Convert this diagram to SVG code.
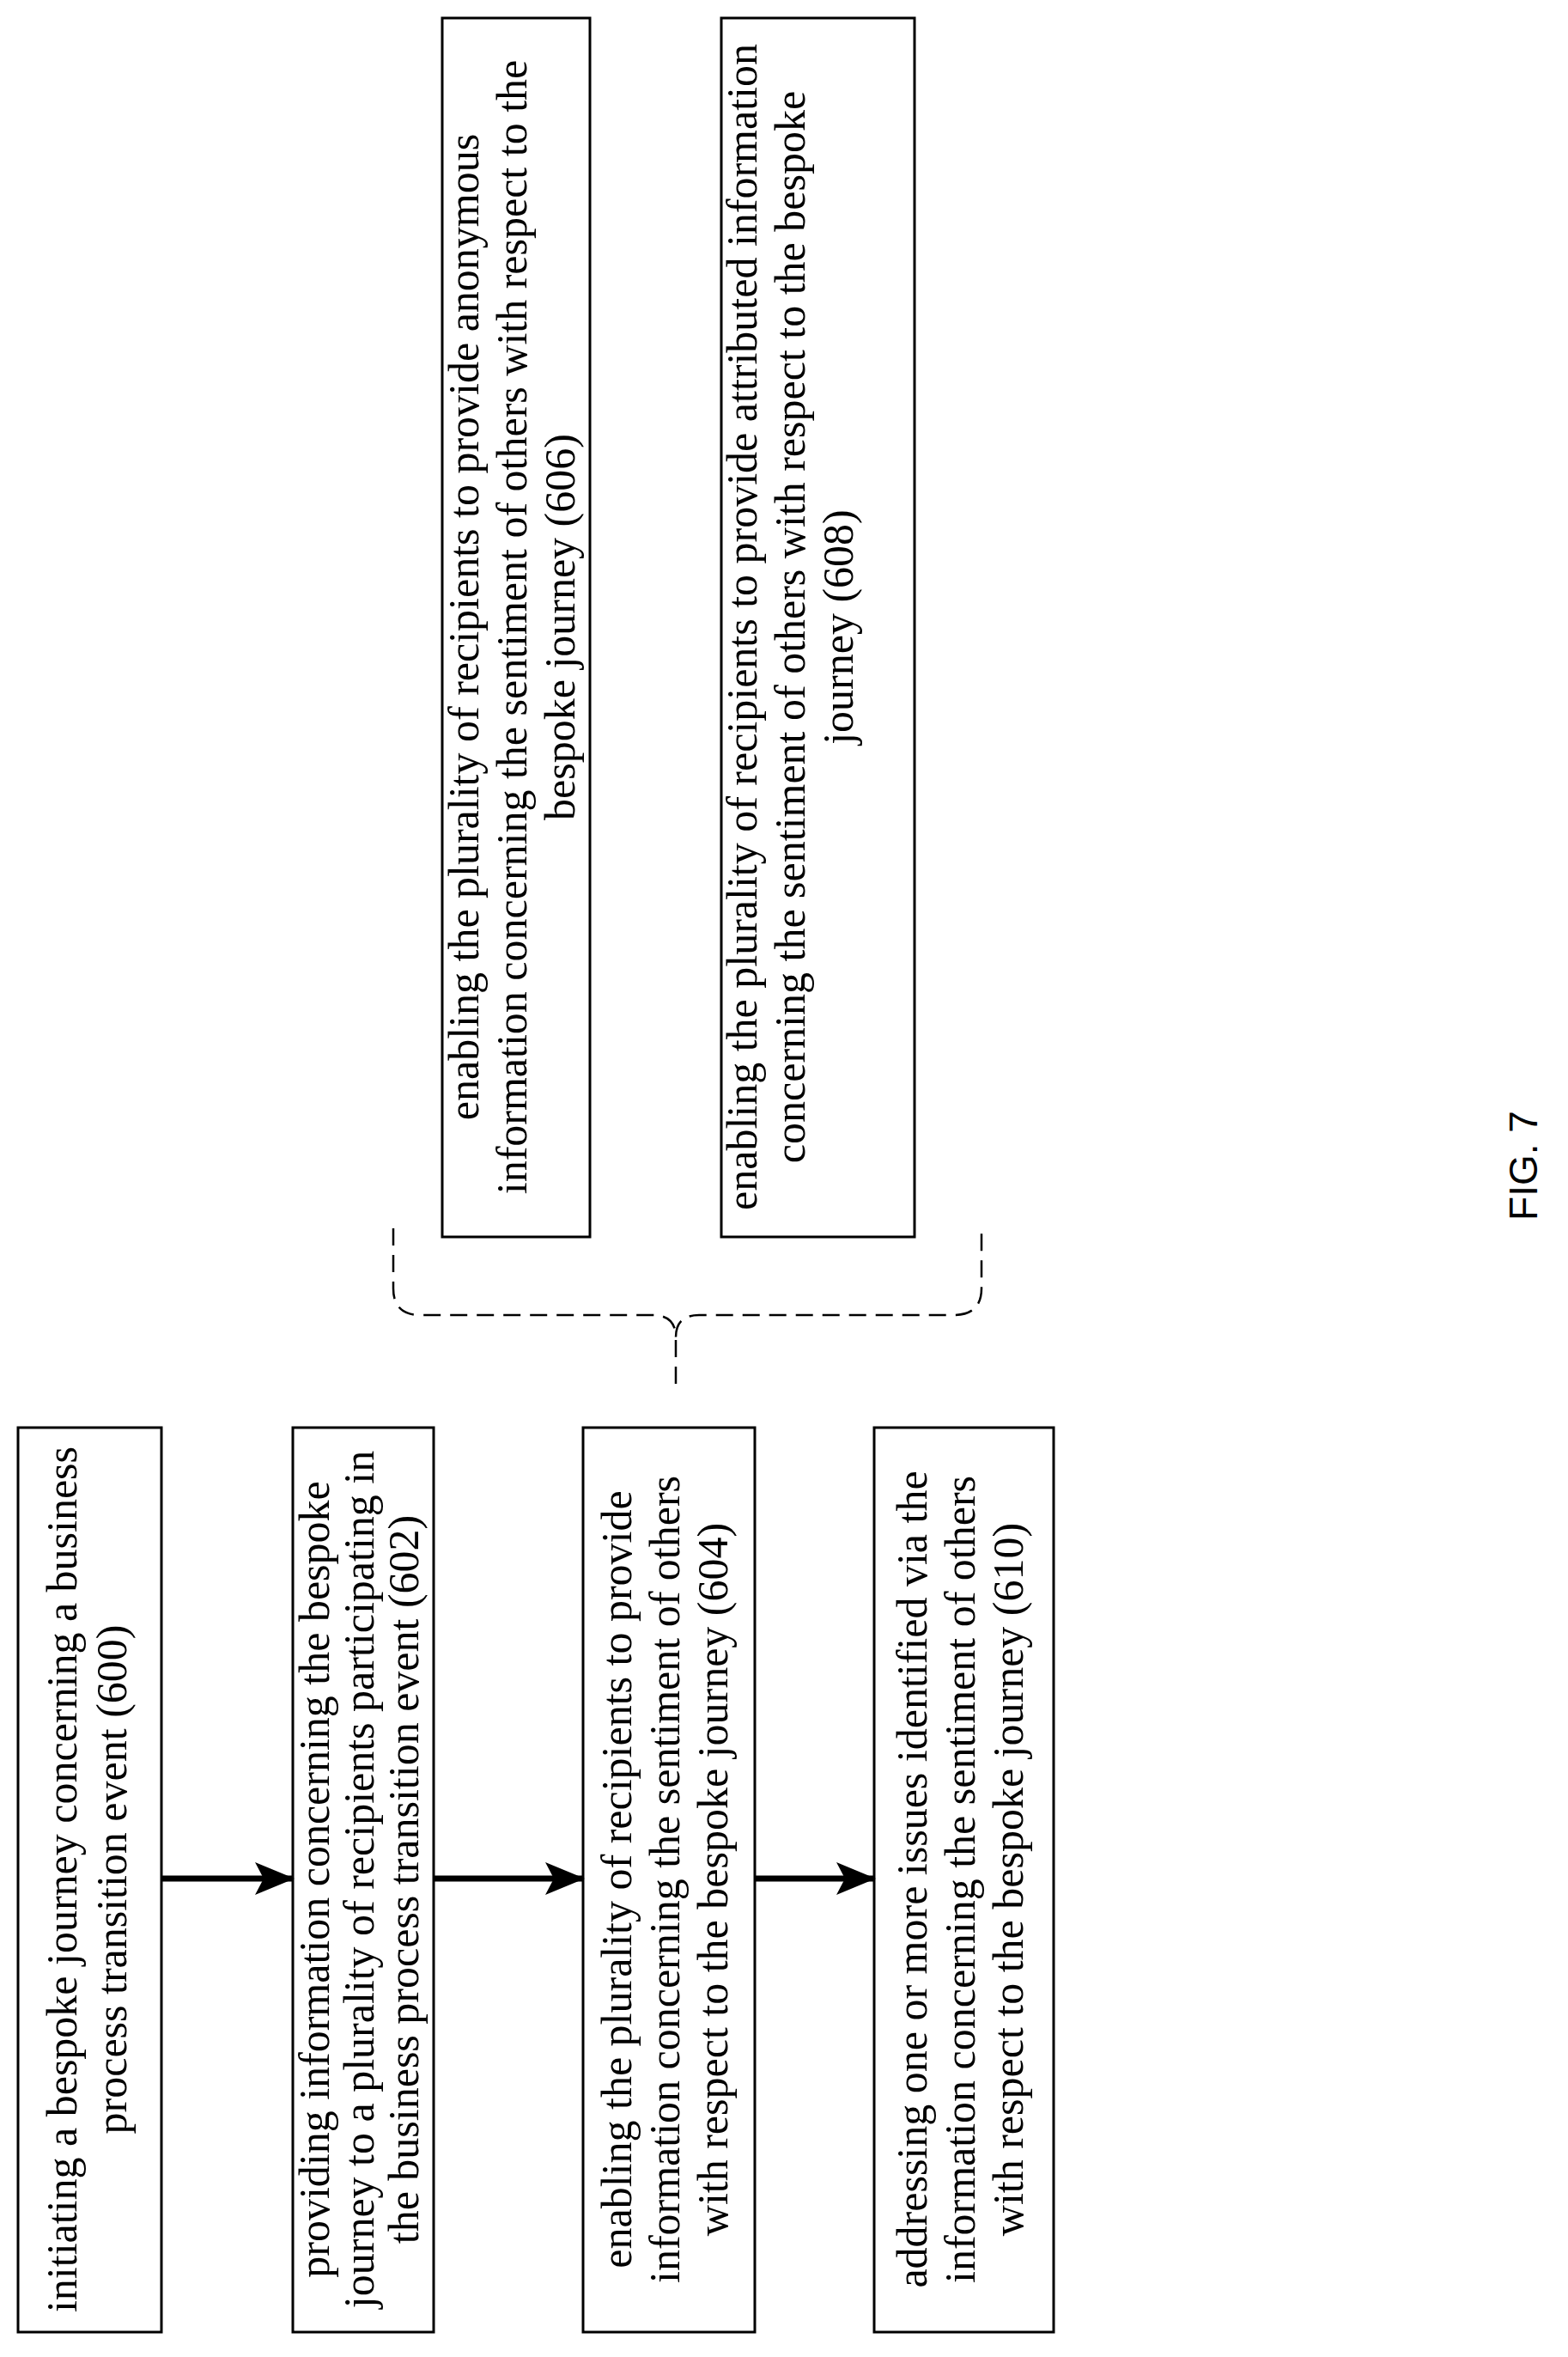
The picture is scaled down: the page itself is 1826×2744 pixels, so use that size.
<svg xmlns="http://www.w3.org/2000/svg" width="1826" height="2744" viewBox="0 0 1826 2744">
<style>
.box{fill:#fff;stroke:#000;stroke-width:3}
.t{font-family:"Liberation Serif","Times New Roman",serif;font-size:50px;fill:#000;text-anchor:middle}
.arr{stroke:#000;stroke-width:7;fill:none;marker-end:url(#ah)}
.dash{stroke:#000;stroke-width:2.5;fill:none;stroke-dasharray:20 11}
</style>
<defs>
<marker id="ah" markerUnits="userSpaceOnUse" markerWidth="46" markerHeight="38" refX="44" refY="19" orient="auto">
<path d="M0,0 L46,19 L0,38 L10,19 Z" fill="#000"/>
</marker>
</defs>
<rect width="1826" height="2744" fill="#fff"/>
<g id="n600"><rect class="box" x="21" y="1662" width="167" height="1053"/>
<text class="t" transform="rotate(-90 104.5 2188)" x="104.5" y="2188"><tspan x="104.5" dy="-16">initiating a bespoke journey concerning a business</tspan><tspan x="104.5" dy="58">process transition event (600)</tspan></text></g>
<g id="n602"><rect class="box" x="341" y="1662" width="164" height="1053"/>
<text class="t" transform="rotate(-90 423 2188)" x="423" y="2188"><tspan x="423" dy="-40">providing information concerning the bespoke</tspan><tspan x="423" dy="52">journey to a plurality of recipients participating in</tspan><tspan x="423" dy="52">the business process transition event (602)</tspan></text></g>
<g id="n604"><rect class="box" x="679" y="1662" width="200" height="1053"/>
<text class="t" transform="rotate(-90 779 2188)" x="779" y="2188"><tspan x="779" dy="-44">enabling the plurality of recipients to provide</tspan><tspan x="779" dy="56">information concerning the sentiment of others</tspan><tspan x="779" dy="56">with respect to the bespoke journey (604)</tspan></text></g>
<g id="n610"><rect class="box" x="1018" y="1662" width="209" height="1053"/>
<text class="t" transform="rotate(-90 1122.5 2188)" x="1122.5" y="2188"><tspan x="1122.5" dy="-44">addressing one or more issues identified via the</tspan><tspan x="1122.5" dy="56">information concerning the sentiment of others</tspan><tspan x="1122.5" dy="56">with respect to the bespoke journey (610)</tspan></text></g>
<g id="n606"><rect class="box" x="515" y="21" width="172" height="1419"/>
<text class="t" transform="rotate(-90 601 730)" x="601" y="730"><tspan x="601" dy="-44">enabling the plurality of recipients to provide anonymous</tspan><tspan x="601" dy="56">information concerning the sentiment of others with respect to the</tspan><tspan x="601" dy="56">bespoke journey (606)</tspan></text></g>
<g id="n608"><rect class="box" x="840" y="21" width="225" height="1419"/>
<text class="t" transform="rotate(-90 952.5 730)" x="952.5" y="730"><tspan x="952.5" dy="-72">enabling the plurality of recipients to provide attributed information</tspan><tspan x="952.5" dy="56">concerning the sentiment of others with respect to the bespoke</tspan><tspan x="952.5" dy="56">journey (608)</tspan></text></g>
<g id="connectors">
<line class="arr" x1="188" y1="2187" x2="341" y2="2187"/>
<line class="arr" x1="505" y1="2187" x2="679" y2="2187"/>
<line class="arr" x1="879" y1="2187" x2="1018" y2="2187"/>
<path class="dash" d="M458 1430 V1500 Q458 1531 490 1531 H760 Q787 1531 787 1557 Q787 1531 814 1531 H1110 Q1143 1531 1143 1500 V1430"/>
<path class="dash" d="M787 1560 V1622"/>
</g>
<text transform="rotate(-90 1790 1357)" x="1790" y="1357" style="font-family:'Liberation Sans',Arial,sans-serif;font-size:46px;text-anchor:middle">FIG. 7</text>
</svg>
